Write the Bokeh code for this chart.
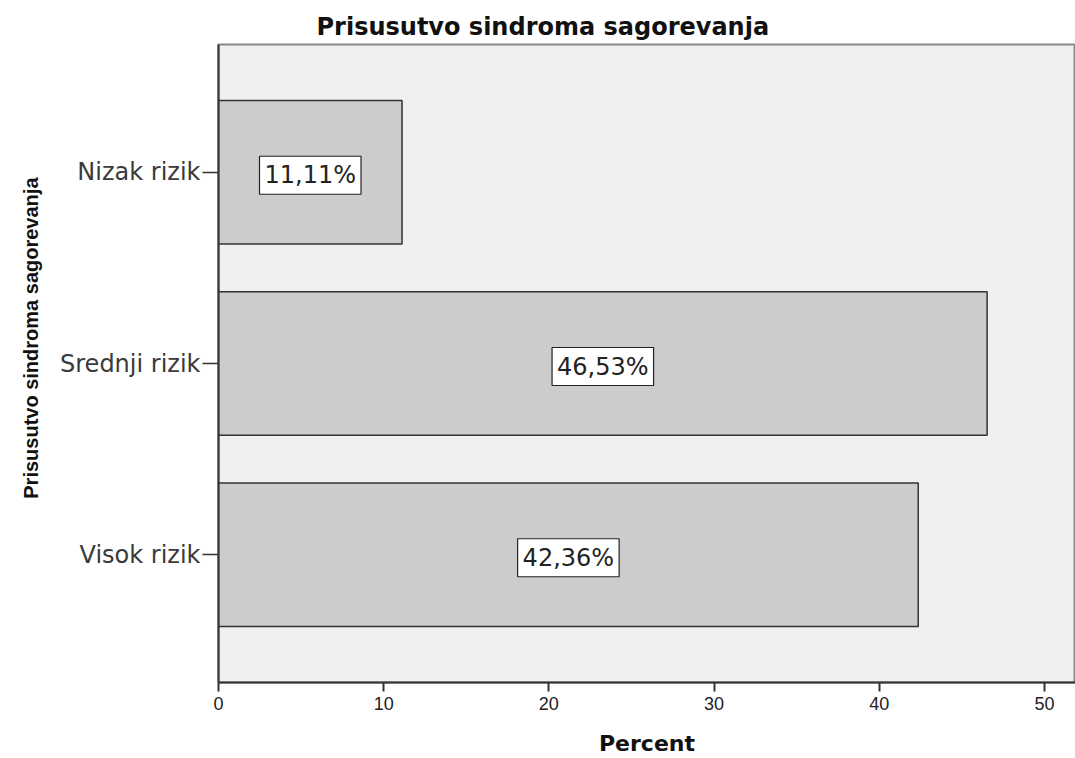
from bokeh.plotting import figure
from bokeh.models import (FactorRange, Range1d, ColumnDataSource, Title,
                          FixedTicker)
from bokeh.core.properties import value
from bokeh.embed import file_html
from bokeh.resources import INLINE

# ---- data ----
categories = ["Nizak rizik", "Srednji rizik", "Visok rizik"]
percent = [11.11, 46.53, 42.36]
x_ticks = [0, 10, 20, 30, 40, 50]
title_text = "Prisusutvo sindroma sagorevanja"
y_title = "Prisusutvo sindroma sagorevanja"
x_title = "Percent"

labels = [("%.2f" % v).replace(".", ",") + "%" for v in percent]
mid = [v / 2 for v in percent]

src = ColumnDataSource(dict(cat=categories, val=percent, mid=mid, lab=labels))

p = figure(width=1075, height=758,
           y_range=FactorRange(factors=list(reversed(categories)),
                               range_padding=0.112, range_padding_units="percent"),
           x_range=Range1d(0, 51.88),
           output_backend="svg", toolbar_location=None,
           min_border_left=218, min_border_right=0,
           min_border_top=44, min_border_bottom=70,
           title=title_text)

p.background_fill_color = "#f0f0f0"
p.border_fill_color = "white"
p.outline_line_color = "#888888"
p.outline_line_width = 2
p.xgrid.visible = False
p.ygrid.visible = False

p.title.align = "left"
p.title.offset = 98
p.title.text_font = "DejaVu Sans"
p.title.text_font_size = "24px"
p.title.text_font_style = "bold"
p.title.text_color = "#111111"
p.title.standoff = 7

p.hbar(y="cat", left=0, right="val", height=0.75, source=src,
       fill_color="#cccccc", line_color="#333333", line_width=1.5)

p.text(x="mid", y="cat", text="lab", source=src,
       text_align="center", text_baseline="middle",
       text_font=value("DejaVu Sans"), text_font_size="24px", text_color="#222222",
       background_fill_color="white", border_line_color="#222222",
       border_line_width=1.2, padding=5, y_offset=3)

xa = p.xaxis[0]
xa.ticker = FixedTicker(ticks=x_ticks)
xa.minor_tick_line_color = None
xa.major_tick_out = 9
xa.major_tick_in = 0
xa.major_tick_line_width = 2
xa.major_tick_line_color = "#333333"
xa.axis_line_width = 2
xa.axis_line_color = "#333333"
xa.major_label_text_font = "Liberation Sans"
xa.major_label_text_font_size = "18px"
xa.major_label_text_color = "#222222"
xa.major_label_standoff = 5
xa.axis_label = x_title
xa.axis_label_text_font = "DejaVu Sans"
xa.axis_label_text_font_size = "22px"
xa.axis_label_text_font_style = "bold"
xa.axis_label_text_color = "#111111"
xa.axis_label_standoff = 18

ya = p.yaxis[0]
ya.major_tick_out = 16
ya.major_tick_in = 0
ya.major_tick_line_width = 1.5
ya.major_tick_line_color = "#333333"
ya.axis_line_width = 2
ya.axis_line_color = "#333333"
ya.major_label_text_font = "DejaVu Sans"
ya.major_label_text_font_size = "24px"
ya.major_label_text_color = "#3a3a3a"
ya.major_label_standoff = 2

ytitle = Title(text=y_title, align="right", offset=133, standoff=32,
               vertical_align="bottom",
               text_font="Liberation Sans", text_font_size="20px",
               text_font_style="bold", text_color="#111111")
p.add_layout(ytitle, "left")

open("out.html", "w").write(file_html(p, INLINE))
